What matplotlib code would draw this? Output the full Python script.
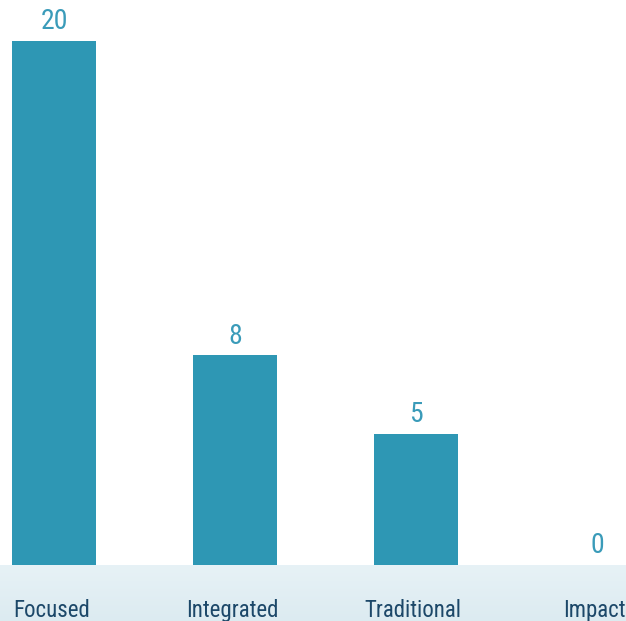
import numpy as np
import matplotlib
matplotlib.use('Agg')
from matplotlib import pyplot as plt
from matplotlib.transforms import offset_copy

categories = ['Focused', 'Integrated', 'Traditional', 'Impact']
counts = [20, 8, 5, 0]

bar_color = '#2e97b4'
value_color = '#3a9bb9'
label_color = '#1c4869'
family = 'Roboto Condensed'

W, H = 626, 621
band_h = 56
fig = plt.figure(figsize=(W / 100, H / 100), dpi=100)

# light band under the baseline
band = fig.add_axes([0, 0, 1, band_h / H])
grad = np.linspace(0, 1, 100).reshape(-1, 1)
top = np.array([0.906, 0.949, 0.965])
bot = np.array([0.863, 0.922, 0.945])
img = top + (bot - top) * grad[:, :, None]

ax = fig.add_axes([0, band_h / H, 1, 1 - band_h / H])
x = np.arange(len(categories))
ax.bar(x, counts, width=0.465, color=bar_color)
ax.set_xlim(-0.30, 3.16)
ax.set_ylim(0, (H - band_h) / 26.2)
ax.set_axis_off()

for xi, v in zip(x, counts):
    ax.annotate(str(v), (xi, v), xytext=(0, 4), textcoords='offset points',
                ha='center', va='bottom', fontsize=20, color=value_color,
                family=family)

band.imshow(img, aspect='auto', extent=(*ax.get_xlim(), 0, 1), origin='upper')
band.set_xlim(ax.get_xlim())
band.set_ylim(0, 1)
band.set_axis_off()

# category names sit in the band, a little left of the bar centres
trans = offset_copy(band.transData, fig=fig, x=-3, y=0, units='dots')
for xi, name in zip(x, categories):
    band.text(xi, 0.07, name, transform=trans, ha='center',
              va='baseline', fontsize=16.5, color=label_color, family=family)

fig.savefig('out.png', dpi=100)
